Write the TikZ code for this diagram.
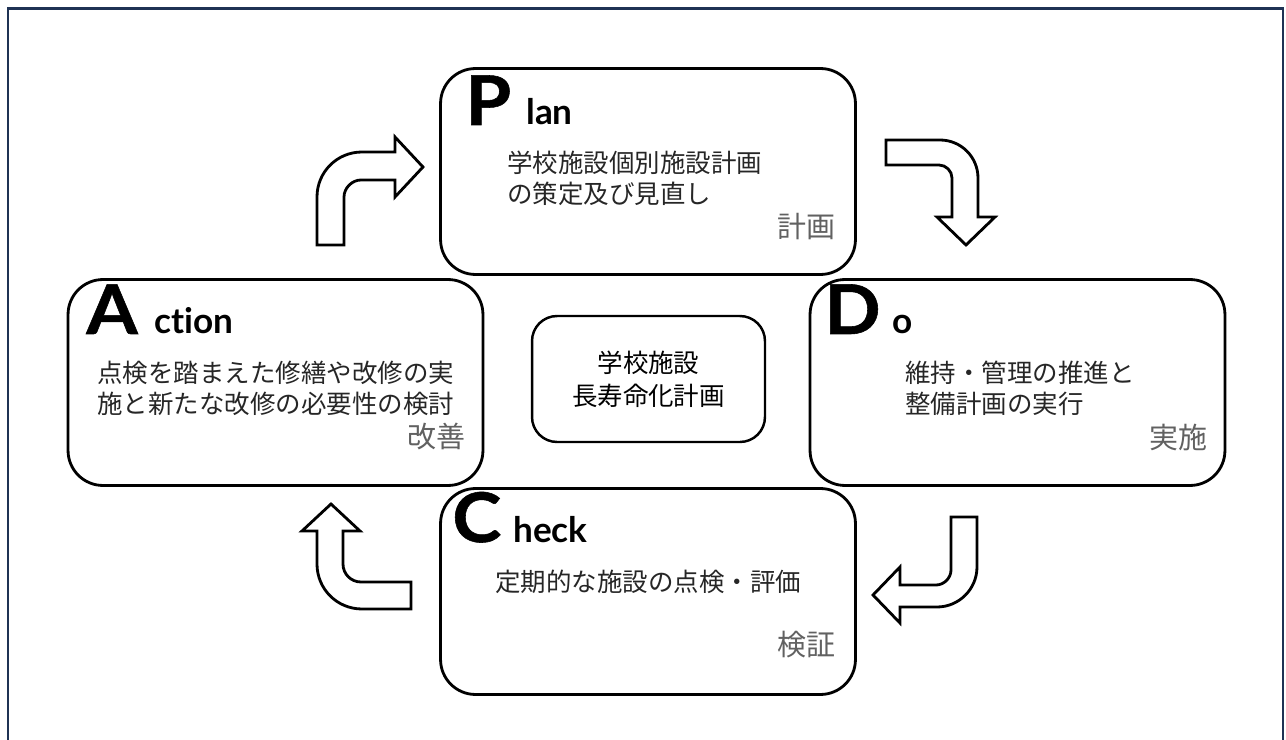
\documentclass[tikz,border=0pt]{standalone}
\usepackage{fontspec}
\newfontfamily\jpfont{Noto Sans CJK JP}
\newfontfamily\latinfont[Ligatures=NoCommon]{Lato}
\newfontfamily\initialfont[Ligatures=NoCommon,BoldFeatures={FakeBold=0.8,FakeStretch=1.08}]{Lato}
\usepackage{tikz}
\definecolor{framenavy}{RGB}{31,50,84}

\begin{document}
\begin{tikzpicture}[x=0.02cm,y=-0.02cm,
                        frame/.style={line width=1.4pt,draw=framenavy},
                        stage/.style={draw,line width=1.6pt,rounded corners=0.7cm,minimum width=8.3cm,minimum height=4.12cm,inner sep=0pt},
                        core/.style={draw,line width=1.4pt,rounded corners=0.5cm,minimum width=4.66cm,minimum height=2.52cm,inner sep=0pt,
                        align=center,font=\jpfont\fontsize{14.5}{19}\selectfont},
                        initial/.style={font=\initialfont\bfseries\fontsize{39}{39}\selectfont,anchor=base west,inner sep=0pt},
                        word/.style={font=\latinfont\bfseries\fontsize{20}{20}\selectfont,anchor=base west,inner sep=0pt},
                        body/.style={font=\jpfont\fontsize{14.5}{17.5}\selectfont,align=left,anchor=west,inner sep=0pt,text=black!85},
                        tag/.style={font=\jpfont\fontsize{16.5}{16.5}\selectfont,text=black!62,anchor=east,inner sep=0pt},
                        turn/.style={draw,fill=white,line width=1.6pt}
                        ]
                        \useasboundingbox (0,0) rectangle (1286,740);
                        \clip (0,0) rectangle (1286,740);
                        \draw[frame] (8,760) -- (8,8.5) -- (1283,8.5) -- (1283,760);

                        % the four stages and the plan in the middle
                        \node[stage] (plan) at (648,171.5) {};
                        \node[stage] (act) at (275.5,382.5) {};
                        \node[stage] (do) at (1017.5,382.5) {};
                        \node[stage] (check) at (648,591.5) {};
                        \node[core] (core) at (648.5,379) {学校施設\\長寿命化計画};

                        \node[initial] (P) at (465,125) {P};
                        \node[word] (lan) at (526,125) {lan};
                        \node[initial] (A) at (86,334) {A};
                        \node[word] (ction) at (154,334) {ction};
                        \node[initial] (D) at (824,334) {D};
                        \node[word] (o) at (892,334) {o};
                        \node[initial] (C) at (452,542) {C};
                        \node[word] (heck) at (513,542) {heck};

                        \node[body] (plantext) at (507,178) {学校施設個別施設計画\\の策定及び見直し};
                        \node[body] (acttext) at (97,388) {点検を踏まえた修繕や改修の実\\施と新たな改修の必要性の検討};
                        \node[body] (dotext) at (905,388) {維持・管理の推進と\\整備計画の実行};
                        \node[body] (checktext) at (495,582) {定期的な施設の点検・評価};

                        \node[tag] (plantag) at (836,227) {計画};
                        \node[tag] (acttag) at (466,437) {改善};
                        \node[tag] (dotag) at (1208,437) {実施};
                        \node[tag] (checktag) at (836,645) {検証};

                        % bent block arrows
                        \draw[turn] (317,245) -- (344,245) -- (344,197) .. controls (344,188) and (352,180) .. (361,180) -- (395,180) -- (395,197)
                            -- (423,167) -- (395,137) -- (395,152) -- (362,152) .. controls (337,152) and (317,172) .. (317,197) -- cycle;
                        \draw[turn] (886,140) -- (940,140) .. controls (961,140) and (978,157) .. (978,178) -- (978,217) -- (995,217)
                            -- (966,245) -- (937,217) -- (952,217) -- (952,178) .. controls (952,171) and (946,165) .. (939,165) -- (886,165) -- cycle;
                        \draw[turn] (951,517) -- (977,517) -- (977,567) .. controls (977,589) and (959,607) .. (937,607) -- (900,607) -- (900,623)
                            -- (873,595) -- (900,567) -- (900,585) -- (936,585) .. controls (944,585) and (951,578) .. (951,570) -- cycle;
                        \draw[turn] (411,582) -- (411,609) -- (362,609) .. controls (337,609) and (317,589) .. (317,564) -- (317,531) -- (302,531)
                            -- (331,504) -- (360,531) -- (343,531) -- (343,564) .. controls (343,574) and (351,582) .. (361,582) -- cycle;
                    \end{tikzpicture}
\end{document}
